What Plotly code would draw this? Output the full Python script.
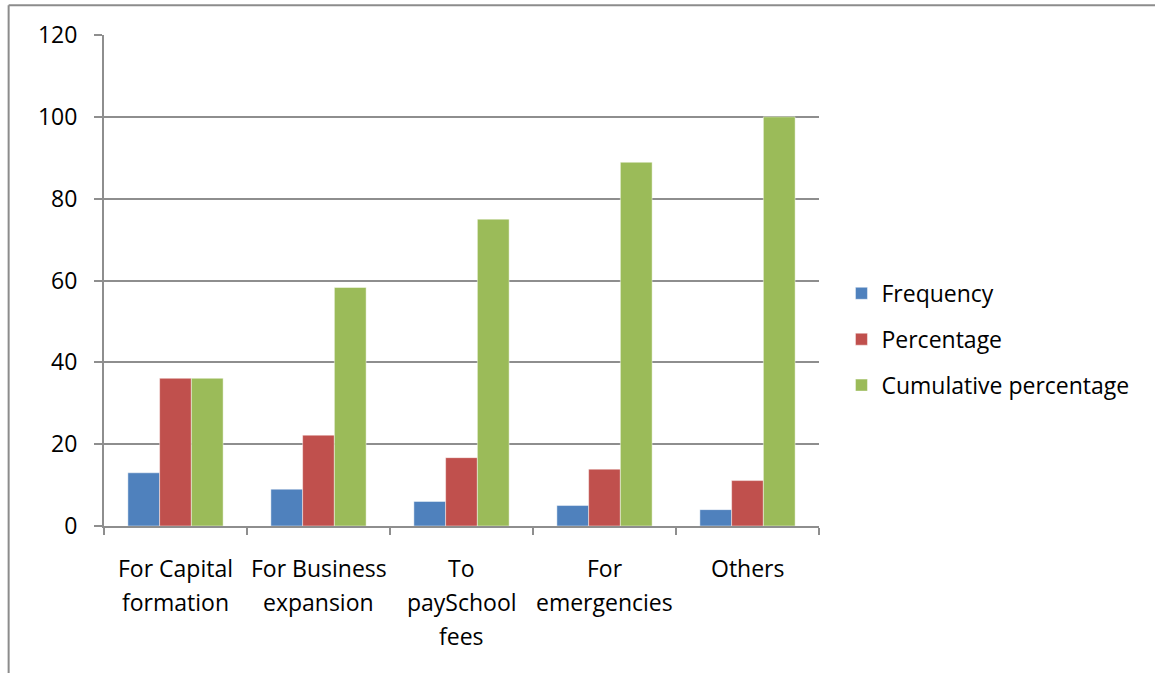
import plotly.graph_objects as go

# Reasons for saving: frequency, share and running total
categories = [
    "For Capital<br>formation",
    "For Business<br>expansion",
    "To<br>paySchool<br>fees",
    "For<br>emergencies",
    "Others",
]
frequency = [13, 9, 6, 5, 4]
percentage = [36.1, 22.2, 16.7, 13.9, 11.1]
cumulative = [36.1, 58.3, 75.0, 88.9, 100.0]

y_ticks = [0, 20, 40, 60, 80, 100, 120]

W, H = 1155, 673
L, R, T, B = 103.5, 335.5, 35.3, 147
GRID = "#8E8E8E"
FONT = dict(family="'Open Sans', Lato, sans-serif", size=23, color="#000000")

series = [
    ("Frequency", frequency, "#4F81BD"),
    ("Percentage", percentage, "#C0504D"),
    ("Cumulative percentage", cumulative, "#9BBB59"),
]

fig = go.Figure()
for name, vals, color in series:
    fig.add_trace(go.Bar(
        x=categories, y=vals, name=name,
        marker=dict(color=color, line=dict(color="rgba(255,255,255,0.45)", width=1)),
        legendgroup=name,
    ))

pw, ph = W - L - R, H - T - B
def px_x(x):
    return (x - L) / pw
def px_y(y):
    return (H - B - y) / ph

# category labels, one text line at a time for wider line spacing
LINE_GAP = 34
FIRST_LINE = 568
for cat in categories:
    for i, line in enumerate(cat.split("<br>")):
        fig.add_annotation(
            x=cat, xref="x", y=px_y(FIRST_LINE + i * LINE_GAP), yref="paper",
            text=line, showarrow=False, xanchor="center", yanchor="middle",
            font=FONT,
        )

# chart-area frame (left and top edges), in paper coordinates
frame = dict(color="#8C8C8C", width=2)
fig.add_shape(type="line", xref="paper", yref="paper",
              x0=px_x(8), x1=px_x(8), y0=px_y(5.5), y1=px_y(H + 5), line=frame)
fig.add_shape(type="line", xref="paper", yref="paper",
              x0=px_x(8), x1=px_x(W + 5), y0=px_y(5.5), y1=px_y(5.5), line=frame)

fig.update_layout(
    width=W, height=H,
    margin=dict(l=L, r=R, t=T, b=B, autoexpand=False),
    paper_bgcolor="white", plot_bgcolor="white",
    font=FONT,
    barmode="group", bargap=0.334, bargroupgap=0,
    showlegend=True,
    legend=dict(
        x=px_x(842), y=px_y(272), xanchor="left", yanchor="top",
        font=FONT, tracegroupgap=13, bgcolor="rgba(0,0,0,0)",
    ),
    xaxis=dict(
        showline=True, linecolor=GRID, linewidth=2,
        ticks="outside", tickson="boundaries", ticklen=7, tickwidth=2, tickcolor=GRID,
        showgrid=False, showticklabels=False,
    ),
    yaxis=dict(
        range=[0, 120], tickvals=y_ticks, ticktext=[str(v) for v in y_ticks],
        showline=True, linecolor=GRID, linewidth=2,
        ticks="outside", ticklen=8, tickwidth=2, tickcolor=GRID,
        showgrid=True, gridcolor=GRID, gridwidth=2,
        zeroline=False, tickfont=FONT, ticklabelstandoff=12,
    ),
)

fig.write_html("out.html")
